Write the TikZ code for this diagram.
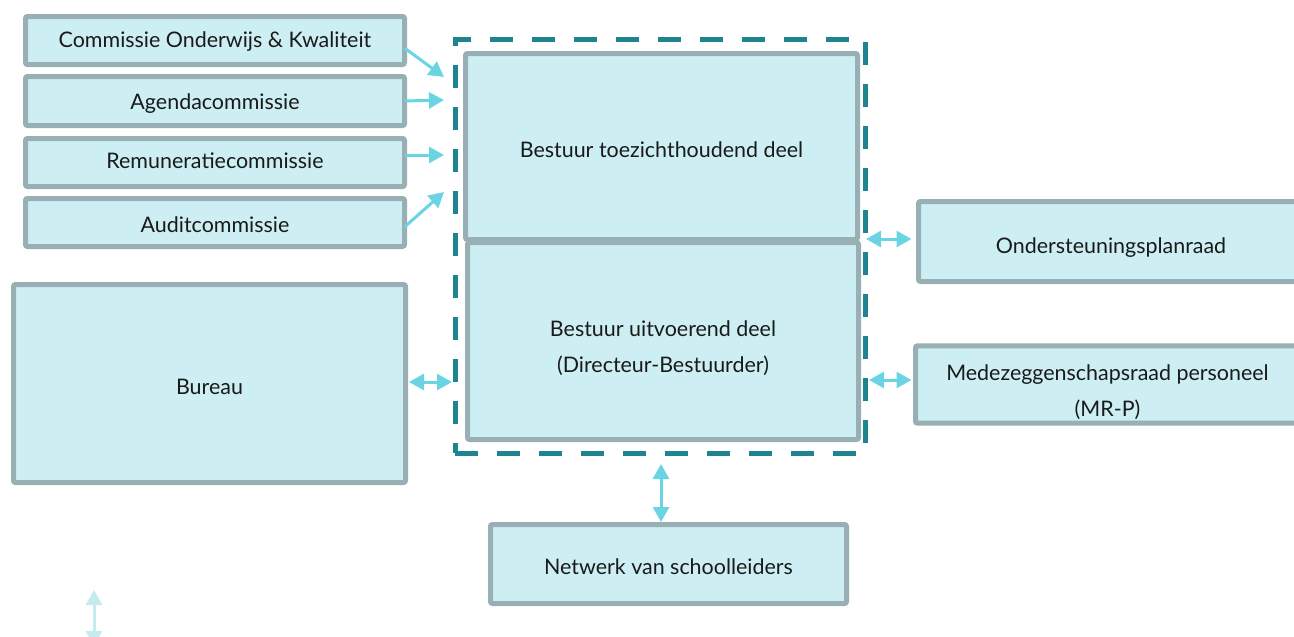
\documentclass[tikz,border=0pt]{standalone}
\usepackage{fontspec}
\setmainfont{Lato}
\usetikzlibrary{arrows.meta,calc}
\definecolor{boxfill}{HTML}{CDEFF3}
\definecolor{boxline}{HTML}{98B0B4}
\definecolor{dashcol}{HTML}{1E8590}
\definecolor{arrcol}{HTML}{6BD4E4}
\definecolor{palecol}{HTML}{C5EBF1}
\definecolor{txt}{HTML}{1A1A1A}
\newcommand{\boxtext}[2]{\raisebox{#1}[\height][\depth]{\begin{tabular}{@{}c@{}}#2\end{tabular}}}
\tikzset{
  box/.style={draw=boxline, fill=boxfill, line width=0.1cm, rounded corners=0.04cm,
    outer sep=0pt, inner sep=2pt, align=center, text=txt,
    font=\fontsize{12.2}{20}\selectfont},
  govbox/.style={draw=dashcol, line width=0.1cm, dash pattern=on 0.46cm off 0.38cm,
    outer sep=0pt, inner sep=0pt},
  arr/.style={draw=arrcol, line width=0.06cm, -{Triangle[length=0.3cm,width=0.32cm]}},
  dbl/.style={draw=arrcol, line width=0.06cm, {Triangle[length=0.3cm,width=0.32cm]}-{Triangle[length=0.3cm,width=0.32cm]}},
  pale/.style={draw=palecol, line width=0.06cm, {Triangle[length=0.3cm,width=0.32cm]}-{Triangle[length=0.3cm,width=0.32cm]}}
}
\begin{document}
\begin{tikzpicture}
\useasboundingbox (0,0) rectangle (25.88,-12.72);
% container (dashed)
\node[govbox, minimum width=8.20cm, minimum height=8.28cm] (gov) at (13.20,-4.92) {};
% main boxes
\node[box, minimum width=7.84cm, minimum height=3.72cm] (toez) at (13.23,-2.93) {\boxtext{-0.08cm}{Bestuur toezichthoudend deel}};
\node[box, minimum width=7.82cm, minimum height=3.94cm] (uitv) at (13.26,-6.82) {\boxtext{-0.13cm}{Bestuur uitvoerend deel\\(Directeur-Bestuurder)}};
% commissions
\node[box, minimum width=7.58cm, minimum height=0.96cm] (cok) at (4.30,-0.81) {\boxtext{0cm}{Commissie Onderwijs \& Kwaliteit}};
\node[box, minimum width=7.58cm, minimum height=0.98cm] (agd) at (4.30,-2.02) {\boxtext{-0.02cm}{Agendacommissie}};
\node[box, minimum width=7.58cm, minimum height=0.96cm] (rem) at (4.30,-3.25) {\boxtext{0.02cm}{Remuneratiecommissie}};
\node[box, minimum width=7.58cm, minimum height=0.96cm] (aud) at (4.30,-4.45) {\boxtext{-0.06cm}{Auditcommissie}};
% others
\node[box, minimum width=7.84cm, minimum height=3.96cm] (bur) at (4.19,-7.67) {\boxtext{-0.08cm}{Bureau}};
\node[box, minimum width=7.70cm, minimum height=1.60cm] (ond) at (22.22,-4.83) {\boxtext{-0.10cm}{Ondersteuningsplanraad}};
\node[box, minimum width=7.68cm, minimum height=1.44cm] (mrp) at (22.15,-7.69) {\boxtext{-0.14cm}{Medezeggenschapsraad personeel\\(MR-P)}};
\node[box, minimum width=7.12cm, minimum height=1.58cm] (net) at (13.37,-11.28) {\boxtext{-0.06cm}{Netwerk van schoolleiders}};
% arrow targets
\coordinate (t1) at (8.88,-1.54);
\coordinate (t2) at (8.88,-2.00);
\coordinate (t3) at (8.88,-3.10);
\coordinate (t4) at (8.88,-3.84);
\draw[arr] ([yshift=-0.15cm]cok.east) -- (t1);
\draw[arr] (agd.east) -- (t2);
\draw[arr] ([yshift=0.15cm]rem.east) -- (t3);
\draw[arr] ([yshift=-0.09cm]aud.east) -- (t4);
\draw[dbl, shorten <=0.07cm, shorten >=0.06cm] (bur.east |- 0,-7.64) -- (gov.west |- 0,-7.64);
\draw[dbl, shorten <=0.02cm, shorten >=0.14cm] (gov.east |- 0,-4.78) -- (ond.west |- 0,-4.78);
\draw[dbl, shorten <=0.08cm, shorten >=0.08cm] (gov.east |- 0,-7.60) -- (mrp.west |- 0,-7.60);
\draw[dbl, shorten <=0.22cm, shorten >=0.05cm] (gov.south -| 13.22,0) -- (net.north -| 13.22,0);
% faded arrow
\coordinate (p1) at (1.88,-11.80);
\coordinate (p2) at (1.88,-12.92);
\draw[pale] (p1) -- (p2);
\end{tikzpicture}
\end{document}
